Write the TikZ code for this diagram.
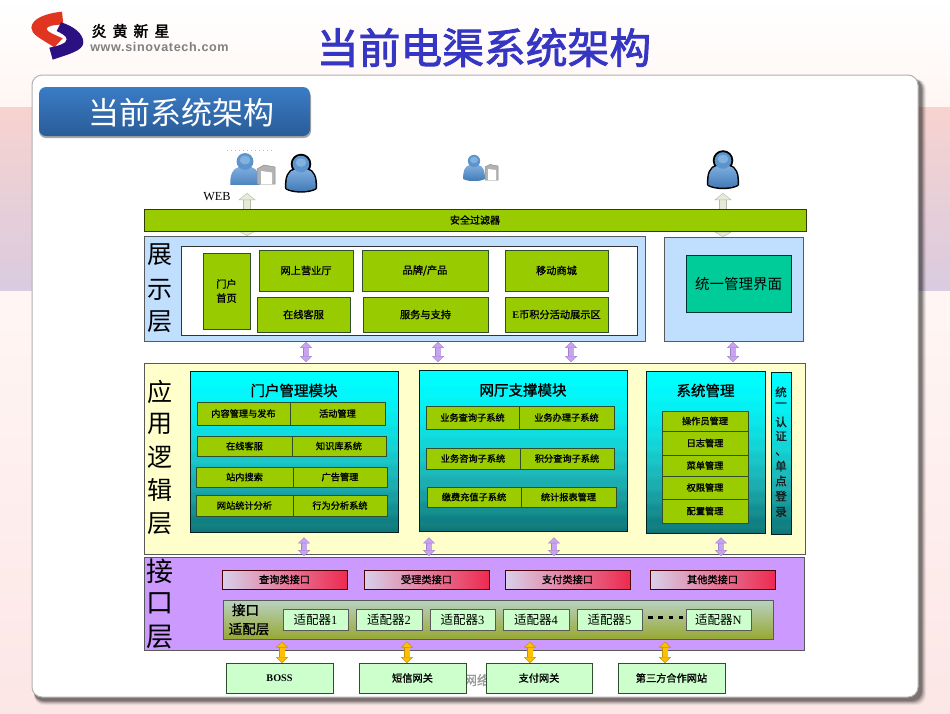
\documentclass[tikz,border=0pt]{standalone}
\usepackage{fontspec}
\setmainfont{Liberation Serif}
\newfontfamily\cjk{Noto Sans CJK SC}
\newfontfamily\cjkm[FakeBold=1.2]{Noto Sans CJK SC}
\newfontfamily\cjkh[FakeBold=2]{Noto Sans CJK SC}
\newfontfamily\urlf[LetterSpace=5]{Liberation Sans}
\usetikzlibrary{arrows.meta,calc}
\definecolor{barg}{HTML}{99CC00}
\definecolor{rowg}{HTML}{9ACC00}
\definecolor{edgeg}{HTML}{2F4F2F}
\definecolor{skyb}{HTML}{C0DFFF}
\definecolor{lightg}{HTML}{CCFFCC}
\definecolor{purp}{HTML}{CC99FF}
\definecolor{cream}{HTML}{FFFFCC}
\definecolor{titleb}{HTML}{3636C4}
\definecolor{purpa}{HTML}{C8A4F0}
\definecolor{purpe}{HTML}{A080D0}
\definecolor{yela}{HTML}{FFC000}
\definecolor{yele}{HTML}{C09010}
\definecolor{graya}{HTML}{E6EAD8}
\definecolor{graye}{HTML}{B4BCA4}
\definecolor{usertop}{HTML}{7FAEE0}
\definecolor{userbot}{HTML}{3F78B4}
\definecolor{userhead}{HTML}{5C94CC}
\definecolor{usershine}{HTML}{9CC4EC}
\definecolor{pilltop}{HTML}{3A7CC6}
\definecolor{pillbot}{HTML}{2A5C98}
\definecolor{bandtop}{HTML}{F7D3CF}
\definecolor{bandbot}{HTML}{D9CBE0}
\definecolor{lowtop}{HTML}{FFF6F3}
\definecolor{lowbot}{HTML}{FCE6E6}
\definecolor{hightop}{HTML}{FFFFFF}
\definecolor{highbot}{HTML}{FFF6F3}
\definecolor{ifleft}{HTML}{D8D0EA}
\definecolor{ifright}{HTML}{EE2A50}
\definecolor{adtop}{HTML}{B9D2C2}
\definecolor{adbot}{HTML}{97A832}
\definecolor{admfill}{HTML}{00CC99}
\definecolor{logored}{HTML}{E03520}
\definecolor{logonavy}{HTML}{2A1080}
\pgfdeclareverticalshading{tealband}{100bp}{
rgb(0bp)=(.05,.45,.47); rgb(25bp)=(.05,.45,.47); rgb(27bp)=(.08,.50,.50); rgb(29bp)=(.05,.50,.52);
rgb(31bp)=(.09,.56,.56); rgb(33bp)=(.07,.56,.58); rgb(35bp)=(.11,.62,.62); rgb(37bp)=(.09,.62,.64);
rgb(39bp)=(.12,.68,.68); rgb(41bp)=(.10,.68,.70); rgb(43bp)=(.12,.73,.73); rgb(45bp)=(.09,.73,.75);
rgb(47bp)=(.11,.78,.78); rgb(49bp)=(.08,.78,.80); rgb(51bp)=(.09,.83,.83); rgb(53bp)=(.06,.83,.85);
rgb(55bp)=(.07,.87,.87); rgb(57bp)=(.04,.87,.89); rgb(59bp)=(.05,.91,.91); rgb(61bp)=(.03,.91,.93);
rgb(63bp)=(.03,.94,.94); rgb(65bp)=(.01,.94,.96); rgb(67bp)=(.02,.97,.97); rgb(69bp)=(0,.97,.99);
rgb(71bp)=(0,.99,.99); rgb(75bp)=(0,1,1); rgb(100bp)=(0,1,1)}
\newcommand{\zhs}[1]{\cjk\fontsize{#1}{#1}\selectfont}
\newcommand{\zhb}[1]{\cjkm\fontsize{#1}{#1}\selectfont}
\newcommand{\nd}[7]{\node[#6,minimum width={(#4-#2)*1pt},minimum height={(#5-#3)*1pt},anchor=north west] (#1) at (#2,#3) {#7};}
\newcommand{\userbody}{(-6,5.5) .. controls (-13,7) and (-15.5,14) .. (-15,25) .. controls (-8,29) and (8,29) .. (15,25) .. controls (15.5,14) and (13,7) .. (6,5.5) -- cycle}
\newcommand{\usericon}[4]{% x y scale outlined
\begin{scope}[shift={(#1,#2)},scale=#3]
\ifnum#4=1
 \path[draw=black,line width=3pt,line join=round] \userbody;
 \path[draw=black,line width=3pt] (0,0) circle (9);
\fi
\path[top color=usertop,bottom color=userbot] \userbody;
\path[fill=userhead] (0,0) circle (8.6);
\fill[usershine,opacity=.6] (0,-1.5) ellipse (5.5 and 4.5);
\end{scope}}
\tikzset{
 base/.style={inner sep=0pt,outer sep=0pt,align=center},
 barbox/.style={base,fill=barg,draw=black!70!barg,line width=.9pt,font=\zhb{10}},
 layer/.style={base,draw=black!65,line width=.9pt},
 greenbox/.style={base,fill=barg,draw=edgeg,line width=.8pt,font=\zhb{10.2}},
 module/.style={base,shading=tealband,draw=black!75!teal,line width=.8pt},
 rowbox/.style={base,fill=rowg,draw=edgeg,line width=.8pt,font=\zhb{9.2}},
 sysbox/.style={base,fill=rowg,draw=edgeg,line width=.8pt,font=\zhb{9.2}},
 iface/.style={base,left color=ifleft,right color=ifright,draw=black!70!red,line width=.8pt,font=\zhb{10.2}},
 adapter/.style={base,fill=lightg,draw=black!65,line width=.8pt,font=\zhs{12.5}},
 extern/.style={base,fill=lightg,draw=edgeg,line width=.8pt,font=\zhb{10.2}},
 tiplabel/.style={base,font=\zhb{14.5},text=black},
 layerlabel/.style={base,font=\zhs{25},text=black},
 sidetext/.style={base,font=\zhb{11.5},text=black!90},
 purparrow/.style={draw=purpe,line width=.4pt,double=purpa,double distance=5pt,{Triangle[length=6pt,width=12pt,fill=purpa,line width=.4pt]}-{Triangle[length=6pt,width=12pt,fill=purpa,line width=.4pt]},shorten >=.8pt,shorten <=.8pt},
 yelarrow/.style={draw=yele,line width=.4pt,double=yela,double distance=5pt,{Triangle[length=6pt,width=12pt,fill=yela,line width=.4pt]}-{Triangle[length=6pt,width=12pt,fill=yela,line width=.4pt]}},
 grayarrow/.style={draw=graye,line width=.4pt,double=graya,double distance=6.5pt,{Triangle[length=7pt,width=17pt,fill=graya,line width=.4pt]}-{Triangle[length=5pt,width=17pt,fill=graya,line width=.4pt]}},
}
\begin{document}
\begin{tikzpicture}[x=1pt,y=-1pt]
\useasboundingbox (0,0) rectangle (950,713);
% background
\fill[top color=hightop,bottom color=highbot] (0,0) rectangle (950,107);
\fill[top color=bandtop,bottom color=bandbot] (0,107) rectangle (950,291);
\fill[top color=lowtop,bottom color=lowbot] (0,291) rectangle (950,713);
% card with shadow
\foreach \d/\o in {8/.06,7/.09,6/.13,5/.17,4/.2}{
 \fill[black,opacity=\o,rounded corners=10pt] (34,79) rectangle ($(918,697)+(\d,\d)$);}
\fill[white,draw=black!30,line width=1pt,rounded corners=10pt] (32,75) rectangle (918,697);
% logo
\begin{scope}[shift={(26,5)},scale=.3333]
\fill[logored] (108,20) .. controls (60,25) and (18,40) .. (16,68) .. controls (16,88) and (40,98) .. (85,127) -- (110,100) .. controls (88,90) and (62,80) .. (62,72) .. controls (62,62) and (85,60) .. (112,58) -- cycle;
\fill[logonavy] (105,52) .. controls (140,62) and (172,85) .. (172,112) .. controls (172,137) and (130,147) .. (80,164) -- (70,128) .. controls (100,122) and (122,115) .. (122,103) .. controls (122,92) and (105,85) .. (92,78) -- cycle;
\end{scope}
\node[base,font=\cjkh\fontsize{15}{15}\selectfont] (logocn) at (130.5,31) {炎\hspace{6pt}黄\hspace{6pt}新\hspace{6pt}星};
\node[base,font=\urlf\bfseries\fontsize{12.6}{13}\selectfont,text=black!50] (logourl) at (159.5,46.5) {www.sinovatech.com};
% title
\node[base,font=\cjkh\fontsize{41.8}{42}\selectfont,text=titleb] (title) at (484,47.5) {当前电渠系统架构};
\fill[black!35,rounded corners=7pt] (39,90) rectangle (311,138);
\node[base,rounded corners=7pt,minimum width=271pt,minimum height=49pt,top color=pilltop,bottom color=pillbot] (pill) at (174.5,111.5) {};
\node[base,font=\zhs{31},text=white] (pillt) at (181,113) {当前系统架构};
% users
\usericon{245}{161.5}{.98}{0}
\fill[white] (226,184.6) rectangle (276,192);
\path[fill=black!30,draw=black!45,line width=.5pt] (257,169) -- (264,165) -- (275,167) -- (275,184) -- (257,184) -- cycle;
\path[fill=white] (261,171) -- (272,172.5) -- (272,184) -- (261,184) -- cycle;
\draw[black!25,line width=.6pt,dash pattern=on 1pt off 3pt] (227,150.5) -- (275,150.5);
\usericon{301}{164}{.97}{1}
\usericon{474}{161}{.72}{0}
\fill[white] (460,180.5) rectangle (500,192);
\path[fill=black!30,draw=black!45,line width=.5pt] (485,167) -- (490,164.5) -- (498,166) -- (498,180) -- (485,180) -- cycle;
\path[fill=white] (488,169) -- (496,170) -- (496,180) -- (488,180) -- cycle;
\usericon{723}{160.5}{.97}{1}
\node[base,font=\fontsize{12.3}{13}\selectfont] (web) at (217,196.5) {WEB};
% gray connectors behind bar
\coordinate (userA) at (247,193);
\coordinate (userB) at (723,193);
% layers
\nd{view}{144}{236}{645}{341}{layer,fill=skyb}{}
\nd{admin}{664}{237}{803}{341}{layer,fill=skyb}{}
\draw[grayarrow] (userA) -- (view.north -| userA);
\draw[grayarrow] (userB) -- (admin.north -| userB);
\nd{filter}{144}{209}{806}{231}{barbox}{安全过滤器}
\nd{inner}{181}{246}{637}{335}{base,fill=white,draw=black!80,line width=.8pt}{}
\nd{home}{203}{253}{250}{329}{greenbox}{门户\\[4pt]首页}
\nd{hall}{259}{250}{353}{291}{greenbox}{网上营业厅}
\nd{online}{257}{297}{350}{332}{greenbox}{在线客服}
\nd{brand}{362}{250}{488}{291}{greenbox}{品牌/产品}
\nd{service}{363}{297}{488}{332}{greenbox}{服务与支持}
\nd{mobile}{505}{250}{608}{291}{greenbox}{移动商城}
\nd{ecoin}{505}{297}{608}{332}{greenbox}{{\rmfamily\bfseries E}币积分活动展示区}
\nd{adminui}{686}{255}{791}{312}{base,fill=admfill,draw=black!60!teal,line width=.8pt,font=\zhs{14.5}}{统一管理界面}
\node[layerlabel] (v1) at (160,255) {展};
\node[layerlabel] (v2) at (160,290) {示};
\node[layerlabel] (v3) at (160,322) {层};
% logic layer
\nd{logic}{144}{363}{805}{554}{layer,fill=cream}{}
\node[layerlabel] (l1) at (160,392) {应};
\node[layerlabel] (l2) at (160,424) {用};
\node[layerlabel] (l3) at (160,457) {逻};
\node[layerlabel] (l4) at (160,490) {辑};
\node[layerlabel] (l5) at (160,524) {层};
\nd{portal}{190}{371}{398}{532}{module}{}
\nd{hallm}{419}{370}{627}{531}{module}{}
\nd{sysm}{646}{371}{765}{533}{module}{}
\nd{sso}{771}{372}{791}{534}{module}{}
\node[tiplabel] (portalt) at (294,390.5) {门户管理模块};
\node[tiplabel] (hallt) at (523,390) {网厅支撑模块};
\node[tiplabel] (syst) at (705.5,390.5) {系统管理};
\nd{pa}{197}{402}{290}{425}{rowbox}{内容管理与发布}
\nd{pb}{290}{402}{385}{425}{rowbox}{活动管理}
\nd{pc}{197}{436}{292}{456}{rowbox}{在线客服}
\nd{pd}{292}{436}{386}{456}{rowbox}{知识库系统}
\nd{pe}{196}{467}{293}{487}{rowbox}{站内搜索}
\nd{pf}{293}{467}{387}{487}{rowbox}{广告管理}
\nd{pg}{196}{495}{293}{516}{rowbox}{网站统计分析}
\nd{ph}{293}{495}{387}{516}{rowbox}{行为分析系统}
\nd{ha}{426}{406}{519}{429}{rowbox}{业务查询子系统}
\nd{hb}{519}{406}{614}{429}{rowbox}{业务办理子系统}
\nd{hc}{426}{448}{520}{469}{rowbox}{业务咨询子系统}
\nd{hd}{520}{448}{614}{469}{rowbox}{积分查询子系统}
\nd{he}{427}{487}{521}{507}{rowbox}{缴费充值子系统}
\nd{hf}{521}{487}{616}{507}{rowbox}{统计报表管理}
\nd{sa}{662}{411}{748}{431}{sysbox}{操作员管理}
\nd{sb}{662}{431}{748}{455}{sysbox}{日志管理}
\nd{sc}{662}{455}{748}{476}{sysbox}{菜单管理}
\nd{sd}{662}{476}{748}{499}{sysbox}{权限管理}
\nd{se}{662}{499}{748}{523}{sysbox}{配置管理}
\node[sidetext] (s1) at (781,392) {统};
\node[sidetext] (s2) at (781,405) {一};
\node[sidetext] (s3) at (781,422) {认};
\node[sidetext] (s4) at (781,436) {证};
\node[sidetext] (s5) at (781,454) {、};
\node[sidetext] (s6) at (781,466) {单};
\node[sidetext] (s7) at (781,481) {点};
\node[sidetext] (s8) at (781,496) {登};
\node[sidetext] (s9) at (781,512) {录};
% interface layer
\nd{ifl}{144}{557}{804}{650}{layer,fill=purp}{}
\node[layerlabel,font=\zhs{27}] (i1) at (160,571) {接};
\node[layerlabel,font=\zhs{27}] (i2) at (160,603) {口};
\node[layerlabel,font=\zhs{27}] (i3) at (160,637) {层};
\nd{qa}{222}{570}{347}{589}{iface}{查询类接口}
\nd{qb}{364}{570}{489}{589}{iface}{受理类接口}
\nd{qc}{505}{570}{630}{589}{iface}{支付类接口}
\nd{qd}{650}{570}{775}{589}{iface}{其他类接口}
\nd{adl}{223}{600}{773}{639}{base,top color=adtop,bottom color=adbot,draw=black!65,line width=.8pt}{}
\node[base,font=\zhb{13.5}] (adt1) at (245.5,610) {接口};
\node[base,font=\zhb{13.5}] (adt2) at (249,629) {适配层};
\nd{a1}{283}{609}{348}{630}{adapter}{适配器{\rmfamily 1}}
\nd{a2}{356}{609}{422}{630}{adapter}{适配器{\rmfamily 2}}
\nd{a3}{430}{609}{495}{630}{adapter}{适配器{\rmfamily 3}}
\nd{a4}{503}{609}{569}{630}{adapter}{适配器{\rmfamily 4}}
\nd{a5}{577}{609}{642}{630}{adapter}{适配器{\rmfamily 5}}
\nd{an}{686}{609}{751}{630}{adapter}{适配器{\rmfamily N}}
\draw[black,line width=2.8pt,dash pattern=on 4.5pt off 5.8pt] (a5.east |- 0,617.7) ++(6,0) -- (an.west |- 0,617.7);
% watermark and external systems
\node[base,font=\zhb{13},text=black!40] (wm) at (477,680) {网络};
\nd{boss}{226}{663}{333}{693}{extern}{{\rmfamily\bfseries BOSS}}
\nd{sms}{359}{663}{466}{693}{extern}{短信网关}
\nd{pay}{486}{663}{592}{693}{extern}{支付网关}
\nd{third}{618}{663}{725}{693}{extern}{第三方合作网站}
% connectors
\foreach \n/\xx/\from in {ca/306/view,cb/438/view,cc/571/view,cd/733/admin}{
 \coordinate (\n) at (\xx,350);
 \draw[purparrow] (\from.south -| \n) -- (logic.north -| \n);}
\foreach \n/\xx in {ce/304,cf/429,cg/554,ch/721}{
 \coordinate (\n) at (\xx,536.5);
 \draw[purparrow] (\n) -- (ifl.north -| \n);}
\foreach \n/\xx/\to in {ci/282/boss,cj/407/sms,ck/530/pay,cl/665/third}{
 \coordinate (\n) at (\xx,641.5);
 \draw[yelarrow] (\n) -- (\to.north -| \n);}
\end{tikzpicture}
\end{document}
